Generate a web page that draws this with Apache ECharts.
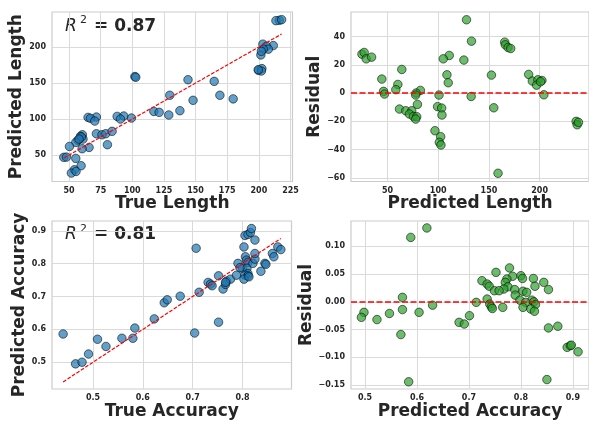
<!DOCTYPE html>
<html><head><meta charset="utf-8">
<script src="https://cdn.jsdelivr.net/npm/echarts@6/dist/echarts.min.js"></script>
<style>html,body{margin:0;padding:0;background:#fff}#c{width:589px;height:421px}</style>
</head><body><div id="c"></div>
<script>
// Panel 1: True vs Predicted Length
const trueLength=[216.1,213.5,218,203.2,211.4,206,207.5,203.5,201.6,202,199.8,202.4,202,102,102.7,144,164.7,129.6,169.2,179.7,148,117,121.2,137.6,128.8,99.3,88,93.2,90.6,65,71.6,66.9,70.3,71.6,76,79,84,80.3,60.5,59,61,57,55.3,59.8,50.3,65.8,60.3,45.8,47.9,55.3,59.5,54.2,51.8,55.5,199.5,57.9];
const predLength=[237,236.6,238,204,202,201,197,197,189,194,167.6,170,166.7,159,158,154.6,152.3,133,133,128,126,110.6,109.3,111.6,105.6,101.4,103.7,104.2,100,102.3,102.8,101,97.2,79.6,78.2,79.6,82.9,64.4,78.2,76,72.2,70.4,67.6,75.1,62,60.6,58.8,46.8,47.2,45.4,35.2,29.6,25,27.3,168.5,72.2];
const lengthDiag=[45.8,218];
// Panel 2: residuals vs predicted length
const residPredLength=[127.9,132.8,165.6,166.2,168.9,171.5,24.8,27,29,34.3,110.9,105,125.3,64.1,108.6,152.5,189.2,109.9,44.4,60.2,58.2,192.8,198.3,202.3,197,200.9,204.2,46.1,47,82.4,78.2,77.8,100.8,132.5,79.5,99.4,103.4,154.8,61.8,68,73.9,71.6,75.5,78.8,77.8,103.7,96.8,102.4,101.1,102.7,159,236,237,238.3];
const residLength=[51.8,36.7,36,34.1,32.2,31.5,27.5,28.7,24.2,25.4,26.6,24.2,23.3,16.7,12.9,12.7,13.2,7.3,9.9,6.1,2.4,8.5,9.4,8.9,5.6,8,-1.2,1.2,-0.7,1.9,0,-1.4,-1.4,-2.4,-8,-9.6,-10.6,-10.4,-11.3,-12.5,-12.5,-14.8,-16.5,-16.7,-18.4,-15.5,-26.6,-30.8,-34.8,-36.7,-56.7,-20,-22.4,-20.7];
// Panel 3: True vs Predicted Accuracy
const trueAcc=[0.440,0.465,0.478,0.491,0.509,0.526,0.558,0.580,0.584,0.623,0.643,0.649,0.675,0.704,0.707,0.713,0.731,0.736,0.739,0.752,0.752,0.761,0.766,0.768,0.776,0.788,0.791,0.800,0.803,0.805,0.811,0.816,0.818,0.825,0.806,0.808,0.811,0.809,0.811,0.805,0.811,0.803,0.821,0.825,0.825,0.837,0.845,0.847,0.860,0.863,0.871,0.877,0.795,0.766,0.813];
const predAcc=[0.586,0.495,0.500,0.525,0.570,0.548,0.573,0.573,0.604,0.632,0.681,0.690,0.701,0.589,0.847,0.713,0.743,0.738,0.733,0.763,0.622,0.723,0.737,0.747,0.753,0.765,0.801,0.786,0.851,0.886,0.889,0.895,0.907,0.872,0.821,0.811,0.804,0.786,0.770,0.765,0.763,0.753,0.801,0.814,0.831,0.777,0.801,0.798,0.831,0.821,0.851,0.843,0.788,0.743,0.760];
const accDiag=[0.440,0.877];
// Panel 4: residuals vs predicted accuracy
const residPredAcc=[0.619,0.588,0.778,0.752,0.800,0.803,0.824,0.784,0.773,0.844,0.725,0.735,0.739,0.770,0.775,0.827,0.853,0.767,0.749,0.758,0.788,0.804,0.811,0.789,0.572,0.735,0.821,0.798,0.825,0.714,0.740,0.809,0.828,0.630,0.743,0.745,0.765,0.804,0.819,0.826,0.572,0.498,0.493,0.547,0.604,0.523,0.701,0.681,0.691,0.569,0.853,0.871,0.889,0.895,0.897,0.910,0.584,0.850];
const residAcc=[0.133,0.116,0.061,0.053,0.047,0.042,0.042,0.046,0.041,0.035,0.038,0.032,0.028,0.035,0.027,0.028,0.022,0.023,0.020,0.020,0.022,0.019,0.017,0.012,0.008,0.005,0.003,0.003,0.000,-0.001,-0.004,-0.001,-0.005,-0.006,-0.009,-0.012,-0.010,-0.010,-0.013,-0.017,-0.014,-0.019,-0.028,-0.021,-0.019,-0.032,-0.025,-0.037,-0.040,-0.059,-0.047,-0.044,-0.082,-0.079,-0.078,-0.090,-0.144,-0.140];
// Tick labels
const lengthTicks=[50,75,100,125,150,175,200,225];
const predLenTicks=[50,100,150,200];
const lenYTicks=[50,100,150,200];
const residLenTicks=[-60,-40,-20,0,20,40];
const accXTicks=[0.5,0.6,0.7,0.8];
const accYTicks=[0.5,0.6,0.7,0.8,0.9];
const predAccTicks=[0.5,0.6,0.7,0.8,0.9];
const residAccTicks=[-0.15,-0.10,-0.05,0.00,0.05,0.10];
const r2Texts=['0.87','0.81'];

const FONT='DejaVu Sans';
const TXT='#262626';
const minus=s=>s.replace('-','\u2212');
const fmtInt=v=>minus(String(Math.round(v)));
const fmt1=v=>minus(v.toFixed(1));
const fmt2=v=>minus(v.toFixed(2));

function axis(kind,gi,min,max,ticks,name,gap,fmt){
  return {
    type:'value',gridIndex:gi,min:min,max:max,
    name:name,nameLocation:'middle',nameGap:gap,
    nameTextStyle:{fontFamily:FONT,fontWeight:'bold',fontSize:17,color:TXT},
    axisLine:{show:false},
    axisTick:{show:false,customValues:ticks},
    axisLabel:{customValues:ticks,formatter:fmt,fontFamily:FONT,fontWeight:'bold',fontSize:8,color:TXT,margin:kind==='x'?5:6},
    splitLine:{show:true,lineStyle:{color:'#dadada',width:1}}
  };
}
const grids=[
  {left:52,top:12,width:240.5,height:169.5},
  {left:351,top:12,width:239,height:169.5},
  {left:52,top:221,width:239.5,height:168},
  {left:351,top:221,width:238,height:168}
].map(g=>Object.assign(g,{show:true,borderColor:'#cccccc',borderWidth:1.2,containLabel:false}));

const xAxes=[
  axis('x',0,36.5,226.6,lengthTicks,'True Length',11,fmtInt),
  axis('x',1,14,248.7,predLenTicks,'Predicted Length',11,fmtInt),
  axis('x',2,0.4177,0.8984,accXTicks,'True Accuracy',12,fmt1),
  axis('x',3,0.473,0.931,predAccTicks,'Predicted Accuracy',12,fmt1)
];
const yAxes=[
  axis('y',0,13.3,248.6,lenYTicks,'Predicted Length',22,fmtInt),
  axis('y',1,-62.5,57.3,residLenTicks,'Residual',24,fmtInt),
  axis('y',2,0.4185,0.930,accYTicks,'Predicted Accuracy',20,fmt1),
  axis('y',3,-0.157,0.1455,residAccTicks,'Residual',34,fmt2)
];
const zip=(a,b)=>a.map((v,i)=>[v,b[i]]);
const blue={color:'#1f77b4',opacity:0.7,borderColor:'#000',borderWidth:0.8};
const green={color:'#2ca02c',opacity:0.7,borderColor:'#000',borderWidth:0.8};
const zeroLine={silent:true,symbol:['none','none'],label:{show:false},lineStyle:{color:'#ff0000',type:[6,2.5],width:1.5},data:[{yAxis:0}]};
const diag=(gi,d)=>({type:'line',xAxisIndex:gi,yAxisIndex:gi,data:[[d[0],d[0]],[d[1],d[1]]],showSymbol:false,symbol:'none',silent:true,z:5,lineStyle:{color:'#ff0000',width:1.2,type:[3.7,1.6]}});
const series=[
  {type:'scatter',xAxisIndex:0,yAxisIndex:0,data:zip(trueLength,predLength),symbolSize:8.5,itemStyle:blue},
  diag(0,lengthDiag),
  {type:'scatter',xAxisIndex:1,yAxisIndex:1,data:zip(residPredLength,residLength),symbolSize:8.5,itemStyle:green,markLine:zeroLine},
  {type:'scatter',xAxisIndex:2,yAxisIndex:2,data:zip(trueAcc,predAcc),symbolSize:8.5,itemStyle:blue},
  diag(2,accDiag),
  {type:'scatter',xAxisIndex:3,yAxisIndex:3,data:zip(residPredAcc,residAcc),symbolSize:8.5,itemStyle:green,markLine:zeroLine}
];
function r2(top,val){
  return [
    {type:'text',left:65,top:top,style:{text:'R',font:'italic 17px "DejaVu Sans"',fill:TXT}},
    {type:'text',left:80,top:top-3,style:{text:'2',font:'11px "DejaVu Sans"',fill:TXT}},
    {type:'text',left:94,top:top,style:{text:'= '+val,font:'bold 17px "DejaVu Sans"',fill:TXT}}
  ];
}
const chart=echarts.init(document.getElementById('c'),null,{renderer:'canvas'});
chart.setOption({
  animation:false,
  backgroundColor:'#fff',
  grid:grids,xAxis:xAxes,yAxis:yAxes,series:series,
  graphic:[].concat(r2(18,r2Texts[0]),r2(226.5,r2Texts[1]))
});
</script></body></html>
